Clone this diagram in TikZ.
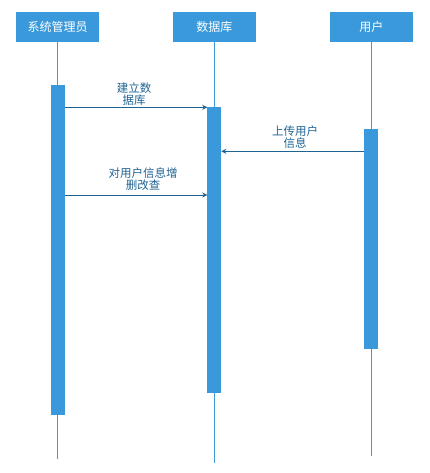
\documentclass[tikz,border=0pt]{standalone}
\usepackage{fontspec}
\setmainfont{Noto Sans CJK SC}
\usetikzlibrary{arrows.meta}
\definecolor{hblue}{HTML}{3A99DB}
\definecolor{ablue}{HTML}{1F6391}
\tikzset{
  head/.style={fill=hblue, draw=none, minimum width=83pt, minimum height=30pt, inner sep=0pt, text=white, font=\fontsize{12pt}{14pt}\selectfont},
  life/.style={draw=hblue, line width=1pt},
  actbar/.style={fill=hblue, draw=none},
  msg/.style={draw=ablue, line width=1pt, -{Stealth[length=5pt,width=5pt]}},
  lbl/.style={text=ablue, align=center, inner sep=0pt, font=\fontsize{11.5pt}{12pt}\selectfont}
}
\begin{document}
\begin{tikzpicture}[x=1pt,y=-1pt]
\useasboundingbox (0,0) rectangle (429,473);
% lifelines
\coordinate (l1b) at (57.7,459);
\coordinate (l2b) at (214.3,463);
\coordinate (l3b) at (371.3,456);
\node[head] (h1) at (57.7,27.3) {系统管理员};
\node[head] (h2) at (214.3,27.3) {数据库};
\node[head] (h3) at (371.3,27.3) {用户};
\draw[life] (h1.south) -- (l1b);
\draw[life] (h2.south) -- (l2b);
\draw[life] (h3.south) -- (l3b);
% activation bars
\fill[actbar] (51,85) rectangle (65,414.7);
\fill[actbar] (207.3,107) rectangle (221.3,392.7);
\fill[actbar] (364,129) rectangle (378,348.7);
\coordinate (a1) at (65,107.3);
\coordinate (b1) at (207.3,107.3);
\coordinate (a2) at (364,151.3);
\coordinate (b2) at (221.3,151.3);
\coordinate (a3) at (65,195);
\coordinate (b3) at (207.3,195);
\draw[msg] (a1) -- (b1);
\draw[msg] (a2) -- (b2);
\draw[msg] (a3) -- (b3);
\node[lbl] (t1) at (134,94) {建立数\\据库};
\node[lbl] (t2) at (295,137) {上传用户\\信息};
\node[lbl] (t3) at (143,179.5) {对用户信息增\\删改查};
\end{tikzpicture}
\end{document}
